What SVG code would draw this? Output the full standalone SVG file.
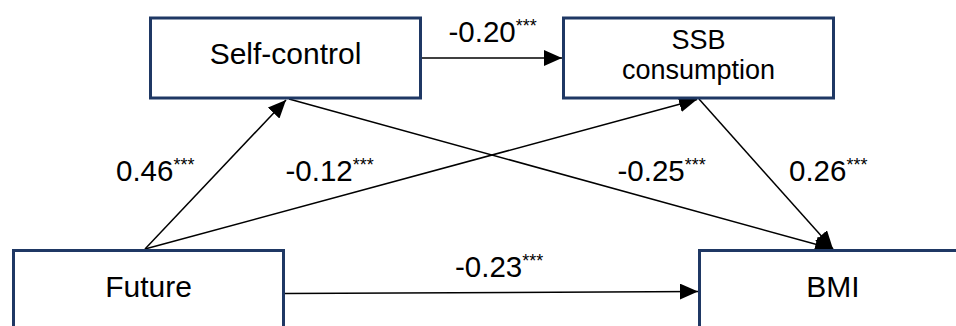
<svg xmlns="http://www.w3.org/2000/svg" width="956" height="326" viewBox="0 0 956 326">
<style>
.box{fill:#fff;stroke:#1f3864;stroke-width:3}
.lbl{font-family:"Liberation Sans",Arial,sans-serif;font-size:30px;fill:#000;text-anchor:middle}
.lbl2{font-family:"Liberation Sans",Arial,sans-serif;font-size:27px;fill:#000;text-anchor:middle}
.coef{font-family:"Liberation Sans",Arial,sans-serif;font-size:29.5px;fill:#000}
.sup{font-size:18px}
.edge{stroke:#000;stroke-width:1.5;fill:none;marker-end:url(#arr)}
</style>
<defs>
<marker id="arr" markerUnits="userSpaceOnUse" markerWidth="18" markerHeight="16" refX="18" refY="8" orient="auto" viewBox="0 0 18 16">
<path d="M0,0 L18,8 L0,16 z" fill="#000"/>
</marker>
</defs>
<rect width="956" height="326" fill="#fff"/>
<g id="connectors">
<line class="edge" x1="420" y1="58" x2="562" y2="58"/>
<line class="edge" x1="145" y1="249" x2="286" y2="100"/>
<line class="edge" x1="145" y1="249" x2="697" y2="99.5"/>
<line class="edge" x1="289" y1="99" x2="833" y2="249"/>
<line class="edge" x1="699" y1="99" x2="833" y2="249"/>
<line class="edge" x1="285" y1="293.5" x2="698" y2="291.5"/>
</g>
<g id="node-selfcontrol">
<rect class="box" x="150.5" y="18" width="270" height="80"/>
<text class="lbl" x="285.5" y="64">Self-control</text>
</g>
<g id="node-ssb">
<rect class="box" x="563.5" y="18" width="270" height="80"/>
<text class="lbl2" x="698.5" y="49">SSB</text>
<text class="lbl2" x="698.5" y="79">consumption</text>
</g>
<g id="node-future">
<rect class="box" x="13.5" y="250.5" width="270" height="82"/>
<text class="lbl" x="148.5" y="297">Future</text>
</g>
<g id="node-bmi">
<rect class="box" x="699.5" y="250.5" width="270" height="82"/>
<text class="lbl" x="833" y="297">BMI</text>
</g>
<g id="labels">
<text class="coef" x="448.5" y="42">-0.20<tspan class="sup" dy="-10">***</tspan></text>
<text class="coef" x="116" y="181">0.46<tspan class="sup" dy="-10">***</tspan></text>
<text class="coef" x="285.5" y="181">-0.12<tspan class="sup" dy="-10">***</tspan></text>
<text class="coef" x="617.5" y="181">-0.25<tspan class="sup" dy="-10">***</tspan></text>
<text class="coef" x="789" y="181">0.26<tspan class="sup" dy="-10">***</tspan></text>
<text class="coef" x="455" y="277">-0.23<tspan class="sup" dy="-10">***</tspan></text>
</g>
</svg>
